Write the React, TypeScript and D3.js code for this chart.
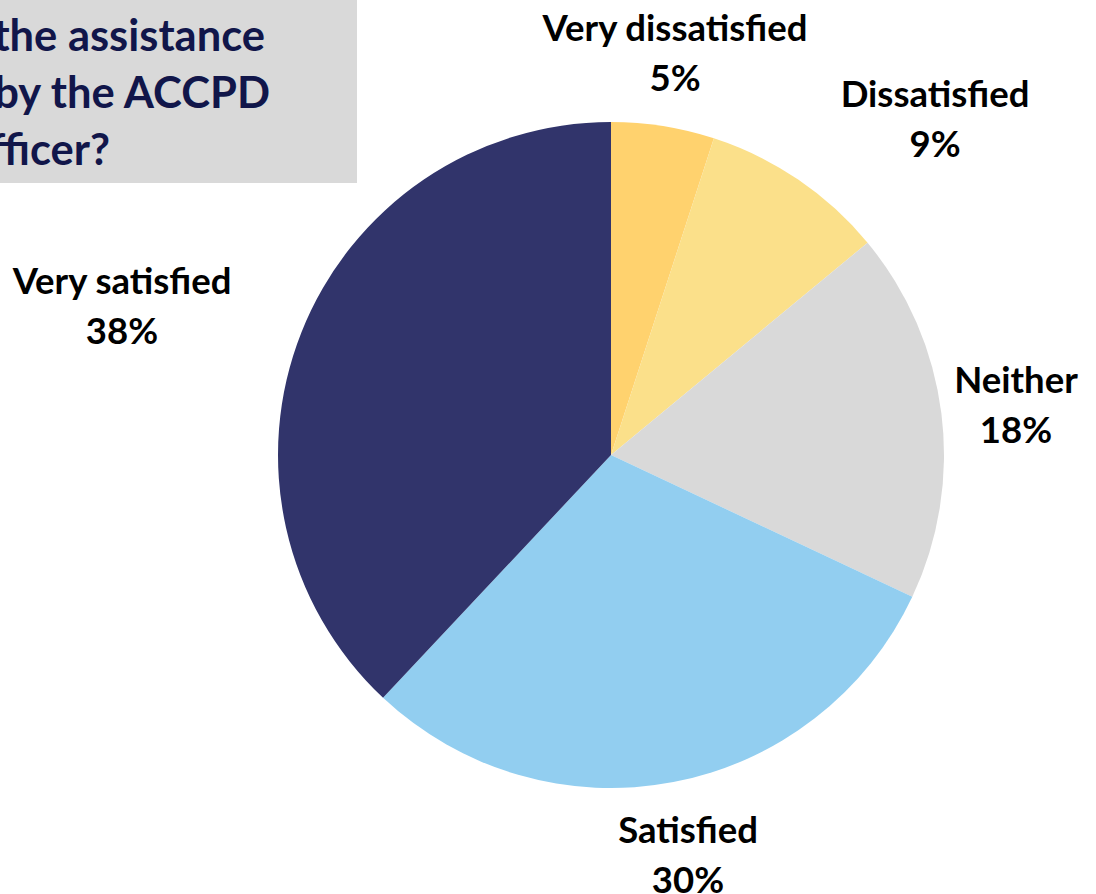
import React from "react";
import * as d3 from "d3";

const categories = ["Very dissatisfied", "Dissatisfied", "Neither", "Satisfied", "Very satisfied"];
const values = [5, 9, 18, 30, 38];
const colors = ["#FFD26E", "#FBE08A", "#D9D9D9", "#92CEF0", "#31346B"];
const titleLines = ["the assistance", "by the ACCPD", "fficer?"];
const labelPos: [number, number][] = [
  [675, 41],
  [935, 107],
  [1016, 393],
  [688, 843],
  [122, 294],
];

export default function App() {
  const W = 1096, H = 894;
  const cx = 611, cy = 455, r = 333;
  const pie = d3.pie<number>().sort(null).value((d) => d)(values);
  const arc = d3.arc<d3.PieArcDatum<number>>().innerRadius(0).outerRadius(r);
  const font = "Lato, 'Open Sans', sans-serif";
  return (
    <svg width={W} height={H} style={{ position: "absolute", left: 0, top: 0 }}>
      <rect x={0} y={0} width={W} height={H} fill="#ffffff" />
      <rect x={0} y={0} width={357} height={183} fill="#D9D9D9" />
      {titleLines.map((t, i) => (
        <text key={i} x={[265, 270, 110][i]} y={51 + i * 57} textAnchor="end" fontFamily={font} fontWeight={700} fontSize={43.5} fill="#11164A">{t}</text>
      ))}
      <g transform={`translate(${cx},${cy})`}>
        {pie.map((d, i) => (
          <path key={i} d={arc(d) || ""} fill={colors[i]} />
        ))}
      </g>
      {categories.map((c, i) => (
        <text key={c} x={labelPos[i][0]} y={labelPos[i][1]} textAnchor="middle" fontFamily={font} fontWeight={700} fontSize={36.5} fill="#000">
          <tspan x={labelPos[i][0]}>{c}</tspan>
          <tspan x={labelPos[i][0]} dy={50}>{values[i]}%</tspan>
        </text>
      ))}
    </svg>
  );
}
